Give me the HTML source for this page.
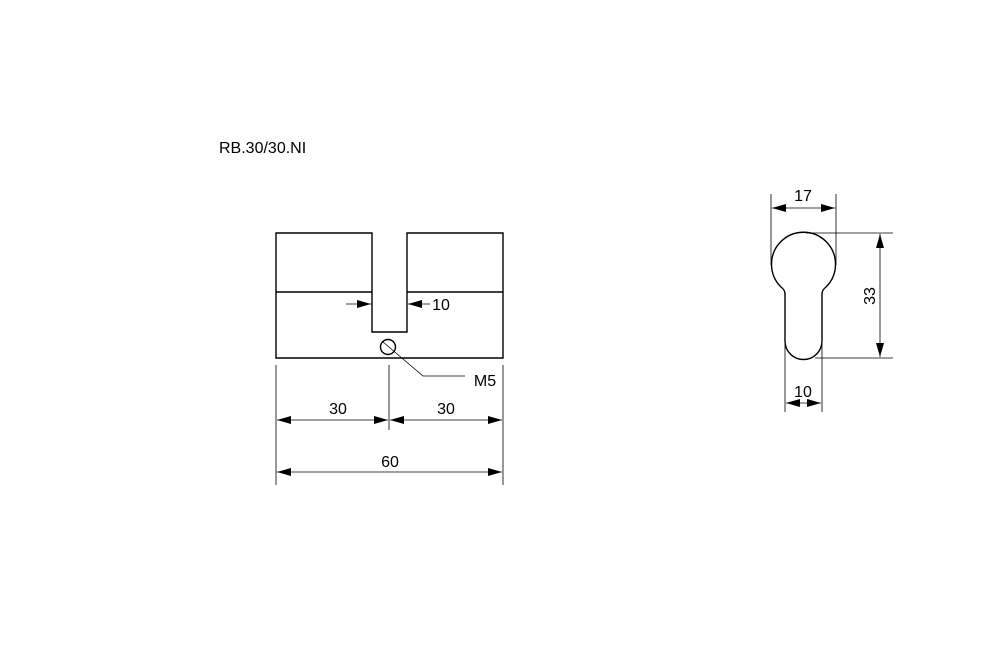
<!DOCTYPE html>
<html><head><style>body{margin:0;background:#fff}svg{display:block}</style></head>
<body>
<svg width="1000" height="652" viewBox="0 0 1000 652" xmlns="http://www.w3.org/2000/svg" font-family="Liberation Sans, Arial, sans-serif">
<defs>
<marker id="a" viewBox="0 0 14 8" refX="14" refY="4" markerWidth="14" markerHeight="8" markerUnits="userSpaceOnUse" orient="auto-start-reverse"><path d="M0,0L14,4L0,8z" fill="#000"/></marker>
</defs>
<text x="219" y="153" font-size="16">RB.30/30.NI</text>
<g fill="none" stroke="#000" stroke-width="1.4">
<path d="M276,233H372V332H407V233H503V358H276Z"/>
<path d="M276,292H372M407,292H503"/>
<circle cx="388" cy="347" r="7.5"/>
</g>
<g stroke="#000" stroke-width="0.8" fill="none">
<path d="M383,342L423,376H465"/>
<path d="M276,365V485M503,365V485M389,365V430"/>
<path d="M346,304H371" marker-end="url(#a)"/>
<path d="M430,304H408" marker-end="url(#a)"/>
<path d="M277,420H388" marker-start="url(#a)" marker-end="url(#a)"/>
<path d="M390,420H502" marker-start="url(#a)" marker-end="url(#a)"/>
<path d="M277,472H502" marker-start="url(#a)" marker-end="url(#a)"/>
</g>
<g font-size="16" text-anchor="middle">
<text x="441" y="310">10</text>
<text x="485" y="386">M5</text>
<text x="338" y="414">30</text>
<text x="446" y="414">30</text>
<text x="390" y="467">60</text>
</g>
<path d="M785,294Q785,290 781,287A32,32 0 1 1 826,287Q822,290 822,294V341A18.5,18.5 0 0 1 785,341Z" fill="none" stroke="#000" stroke-width="1.4"/>
<g stroke="#000" stroke-width="0.8" fill="none">
<path d="M771,194V265M836,194V265M785,341V412M822,341V412"/>
<path d="M806,233H893M815,358H893"/>
<path d="M772,208H835" marker-start="url(#a)" marker-end="url(#a)"/>
<path d="M880,234V357" marker-start="url(#a)" marker-end="url(#a)"/>
<path d="M786,403H821" marker-start="url(#a)" marker-end="url(#a)"/>
</g>
<g font-size="16" text-anchor="middle">
<text x="803" y="201">17</text>
<text x="803" y="397">10</text>
<text transform="translate(875,296) rotate(-90)">33</text>
</g>
</svg>
</body></html>
